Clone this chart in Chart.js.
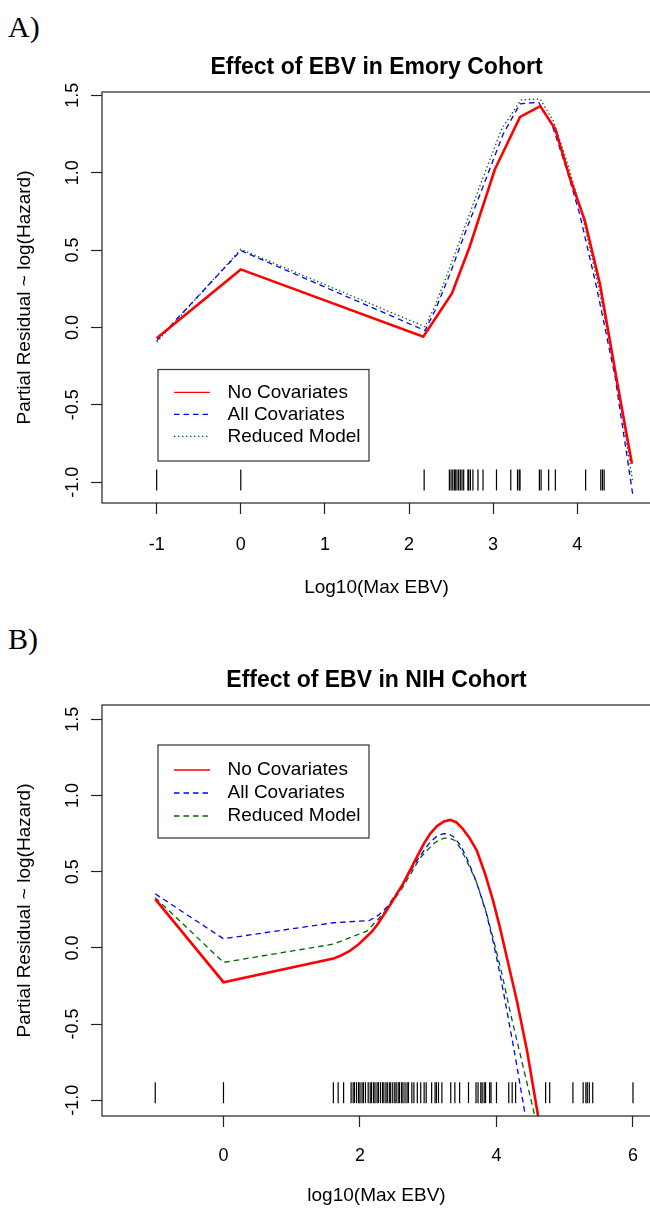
<!DOCTYPE html>
<html>
<head>
<meta charset="utf-8">
<script src="https://cdn.jsdelivr.net/npm/chart.js@4.4.1/dist/chart.umd.min.js"></script>
<style>
  html, body { margin: 0; padding: 0; background: #fff; }
  body { width: 650px; height: 1209px; position: relative; overflow: hidden; }
  .panel { position: absolute; left: 0; width: 650px; overflow: hidden; }
  .tag { position: absolute; left: 8px; font: 30px/36px "Liberation Serif", "Times New Roman", serif; color: #000; }
</style>
</head>
<body>
<div class="tag" style="top:9px">A)</div>
<div class="tag" style="top:621px">B)</div>
<div class="panel" style="top:0;height:605px"><canvas id="chartA" width="652" height="605" style="width:652px;height:605px"></canvas></div>
<div class="panel" style="top:605px;height:604px"><canvas id="chartB" width="652" height="604" style="width:652px;height:604px"></canvas></div>
<script>
// Panel A - Emory cohort
const titleA = 'Effect of EBV in Emory Cohort';
const xLabelA = 'Log10(Max EBV)';
const xTicksA = [-1, 0, 1, 2, 3, 4];
const noCovA_x = [-1, 0, 2.17, 2.51, 2.72, 3.02, 3.32, 3.56, 3.74, 3.91, 4.09, 4.27, 4.47, 4.65];
const noCovA_y = [-0.07, 0.375, -0.06, 0.22, 0.52, 1.02, 1.36, 1.43, 1.28, 0.97, 0.69, 0.28, -0.34, -0.88];
const allCovA_x = [-1, 0, 2.19, 2.31, 2.49, 2.68, 2.88, 3.12, 3.32, 3.54, 3.70, 3.87, 4.03, 4.23, 4.45, 4.66];
const allCovA_y = [-0.085, 0.497, -0.02, 0.11, 0.35, 0.63, 0.91, 1.25, 1.445, 1.455, 1.31, 1.03, 0.73, 0.26, -0.32, -1.08];
const reducedA_x = [-1, 0, 2.19, 2.31, 2.48, 2.67, 2.86, 3.10, 3.33, 3.56, 3.72, 3.89, 4.05, 4.25, 4.46, 4.66];
const reducedA_y = [-0.095, 0.505, 0.005, 0.14, 0.38, 0.66, 0.94, 1.28, 1.47, 1.475, 1.33, 1.05, 0.75, 0.27, -0.30, -1.00];
const rugA = [-1, 0, 2.18, 2.48, 2.50, 2.52, 2.54, 2.55, 2.57, 2.59, 2.61, 2.63, 2.65, 2.70, 2.71, 2.73,
  2.76, 2.82, 2.88, 3.04, 3.21, 3.29, 3.31, 3.32, 3.55, 3.57, 3.66, 3.74, 4.10, 4.28, 4.30, 4.32];
const rugLevelA = -0.985;

// Panel B - NIH cohort
const titleB = 'Effect of EBV in NIH Cohort';
const xLabelB = 'log10(Max EBV)';
const xTicksB = [0, 2, 4, 6];
const noCovB_x = [-1, 0, 1.61, 1.73, 1.85, 1.97, 2.1, 2.18, 2.25, 2.39, 2.52, 2.63, 2.78, 2.93, 3.03, 3.13, 3.23, 3.32, 3.41,
  3.50, 3.60, 3.71, 3.83, 3.95, 4.05, 4.15, 4.30, 4.45, 4.62];
const noCovB_y = [0.32, -0.225, -0.07, -0.048, -0.02, 0.02, 0.075, 0.11, 0.15, 0.245, 0.34, 0.42, 0.55, 0.68, 0.75, 0.80, 0.83, 0.84, 0.825,
  0.785, 0.725, 0.64, 0.49, 0.31, 0.135, -0.06, -0.35, -0.68, -1.13];
const allCovB_x = [-1, 0, 1.61, 2.14, 2.27, 2.39, 2.51, 2.63, 2.83, 3.02, 3.12, 3.22, 3.30, 3.37, 3.47, 3.56,
  3.70, 3.85, 3.96, 4.06, 4.16, 4.27, 4.43];
const allCovB_y = [0.355, 0.06, 0.165, 0.18, 0.215, 0.265, 0.34, 0.42, 0.57, 0.69, 0.73, 0.75, 0.748, 0.73, 0.675, 0.595,
  0.44, 0.23, 0.025, -0.19, -0.43, -0.70, -1.12];
const reducedB_x = [-1, 0, 1.61, 2.1, 2.27, 2.44, 2.63, 2.88, 3.07, 3.16, 3.24, 3.31, 3.39, 3.47, 3.56, 3.71,
  3.84, 3.97, 4.09, 4.2, 4.38, 4.56];
const reducedB_y = [0.33, -0.095, 0.025, 0.11, 0.19, 0.28, 0.40, 0.59, 0.68, 0.71, 0.72, 0.72, 0.705, 0.655, 0.575, 0.43,
  0.25, 0.03, -0.19, -0.42, -0.76, -1.10];
const rugB = [-1, 0, 1.61, 1.68, 1.76, 1.87, 1.90, 1.92, 1.95, 1.98, 2.00, 2.03, 2.05, 2.08, 2.12, 2.15, 2.17,
  2.20, 2.22, 2.25, 2.27, 2.30, 2.33, 2.35, 2.38, 2.40, 2.43, 2.45, 2.48, 2.51, 2.53, 2.56, 2.58, 2.61,
  2.63, 2.66, 2.69, 2.71, 2.76, 2.79, 2.84, 2.89, 2.94, 2.97, 3.05, 3.10, 3.12, 3.15, 3.20, 3.33, 3.39,
  3.46, 3.59, 3.70, 3.73, 3.77, 3.79, 3.82, 3.84, 3.90, 3.92, 4.00, 4.18, 4.23, 4.28, 4.72, 4.78, 5.12,
  5.27, 5.31, 5.33, 5.36, 5.41, 6.00];
const rugLevelB = -0.95;

const yTicks = [-1.0, -0.5, 0.0, 0.5, 1.0, 1.5];
const seriesNames = ['No Covariates', 'All Covariates', 'Reduced Model'];
const yLabel = 'Partial Residual ~ log(Hazard)';

const FONT = '"Liberation Sans", Arial, sans-serif';

function pairs(xs, ys) {
  return xs.map((x, i) => ({ x: x, y: ys[i] }));
}

// plot box like R's box()
const boxPlugin = {
  id: 'rBox',
  afterDraw(chart) {
    const { left, top, right, bottom } = chart.chartArea;
    const ctx = chart.ctx;
    ctx.save();
    ctx.strokeStyle = '#222';
    ctx.lineWidth = 1.2;
    ctx.strokeRect(left, top, right - left, bottom - top);
    ctx.restore();
  }
};

// legend box in the R style, built from the line datasets
const legendPlugin = {
  id: 'rLegend',
  afterDraw(chart, args, o) {
    const ctx = chart.ctx;
    ctx.save();
    ctx.fillStyle = '#fff';
    ctx.fillRect(o.left, o.top, o.right - o.left, o.bottom - o.top);
    ctx.strokeStyle = '#333';
    ctx.lineWidth = 1.2;
    ctx.strokeRect(o.left, o.top, o.right - o.left, o.bottom - o.top);
    ctx.font = '19px ' + FONT;
    ctx.textBaseline = 'middle';
    chart.data.datasets.filter(d => d.showLine).forEach((d, i) => {
      const y = o.firstRow + i * o.rowGap;
      ctx.strokeStyle = d.borderColor;
      ctx.lineWidth = 1.3;
      ctx.setLineDash(d.borderDash || []);
      ctx.beginPath();
      ctx.moveTo(o.lineFrom, y);
      ctx.lineTo(o.lineTo, y);
      ctx.stroke();
      ctx.setLineDash([]);
      ctx.fillStyle = '#000';
      ctx.fillText(d.label, o.textX, y);
    });
    ctx.restore();
  }
};

// no extra room for overhanging tick labels
function noPadding(s) {
  s.paddingLeft = 0;
  s.paddingRight = 0;
  s.paddingTop = 0;
  s.paddingBottom = 0;
}

function makePanel(id, p) {
  const lines = [
    { label: seriesNames[0], data: pairs(p.red[0], p.red[1]), borderColor: '#ff0000', borderWidth: 2.6, borderDash: [] },
    { label: seriesNames[1], data: pairs(p.blue[0], p.blue[1]), borderColor: '#0000ff', borderWidth: 1.3, borderDash: [5.5, 4] },
    { label: seriesNames[2], data: pairs(p.green[0], p.green[1]), borderColor: '#006400', borderWidth: 1.3, borderDash: p.greenDash }
  ].map(d => Object.assign(d, { showLine: true, pointRadius: 0, fill: false, tension: 0 }));

  const rug = {
    label: 'rug',
    data: p.rug.map(x => ({ x: x, y: p.rugLevel })),
    showLine: false,
    pointStyle: 'line',
    rotation: 90,
    pointRadius: 10.5,
    borderColor: '#000',
    borderWidth: 1.2
  };

  return new Chart(document.getElementById(id), {
    type: 'scatter',
    data: { datasets: [rug].concat(lines) },
    options: {
      responsive: false,
      animation: false,
      events: [],
      layout: { autoPadding: false, padding: { left: 0, right: 1, top: 0, bottom: 0 } },
      plugins: {
        legend: { display: false },
        tooltip: { enabled: false },
        title: {
          display: true, text: p.title, fullSize: false, color: '#000',
          font: { family: FONT, size: 23, weight: 'bold' },
          padding: { top: p.titleTop, bottom: p.titleBottom }
        },
        rLegend: p.legend
      },
      scales: {
        x: {
          type: 'linear', min: p.xMin, max: p.xMax,
          afterFit: s => { s.height = p.xAxisHeight; noPadding(s); },
          afterBuildTicks: s => { s.ticks = p.xTicks.map(v => ({ value: v })); },
          ticks: { autoSkip: false, maxRotation: 0, color: '#000', padding: p.xTickPad,
            font: { family: FONT, size: 18 }, callback: v => String(v) },
          grid: { drawOnChartArea: false, tickLength: 11, tickColor: '#222', tickWidth: 1.2 },
          border: { display: false },
          title: { display: true, text: p.xLabel, color: '#000', font: { family: FONT, size: 19 },
            padding: { top: 0, bottom: p.xTitlePad } }
        },
        y: {
          type: 'linear', min: p.yMin, max: p.yMax,
          afterFit: s => { s.width = 102; noPadding(s); },
          afterBuildTicks: s => { s.ticks = yTicks.map(v => ({ value: v })); },
          ticks: { autoSkip: false, minRotation: 90, maxRotation: 90, crossAlign: 'center', padding: 2.5,
            color: '#000', font: { family: FONT, size: 18 }, callback: v => v.toFixed(1) },
          grid: { drawOnChartArea: false, tickLength: 11, tickColor: '#222', tickWidth: 1.2 },
          border: { display: false },
          title: { display: true, text: yLabel, color: '#000', font: { family: FONT, size: 19 },
            padding: { top: 13.6, bottom: 0 } }
        }
      }
    },
    plugins: [boxPlugin, legendPlugin]
  });
}

makePanel('chartA', {
  title: titleA, xLabel: xLabelA, xTicks: xTicksA,
  red: [noCovA_x, noCovA_y], blue: [allCovA_x, allCovA_y], green: [reducedA_x, reducedA_y],
  greenDash: [1.4, 2.6],
  rug: rugA, rugLevel: rugLevelA,
  xMin: -1.65, xMax: 4.877, yMin: -1.134, yMax: 1.521,
  titleTop: 54.2, titleBottom: 10.2, xAxisHeight: 102, xTickPad: 20, xTitlePad: 5.6,
  legend: { left: 158, top: 369.5, right: 369, bottom: 461, firstRow: 392.3, rowGap: 22, lineFrom: 174, lineTo: 210, textX: 227.5 }
});

makePanel('chartB', {
  title: titleB, xLabel: xLabelB, xTicks: xTicksB,
  red: [noCovB_x, noCovB_y], blue: [allCovB_x, allCovB_y], green: [reducedB_x, reducedB_y],
  greenDash: [5.5, 4],
  rug: rugB, rugLevel: rugLevelB,
  xMin: -1.78, xMax: 6.264, yMin: -1.103, yMax: 1.594,
  titleTop: 62.2, titleBottom: 10.2, xAxisHeight: 93, xTickPad: 18.2, xTitlePad: 1.6,
  legend: { left: 158, top: 140, right: 369, bottom: 233, firstRow: 165, rowGap: 23, lineFrom: 174, lineTo: 210, textX: 227.5 }
});
</script>
</body>
</html>
